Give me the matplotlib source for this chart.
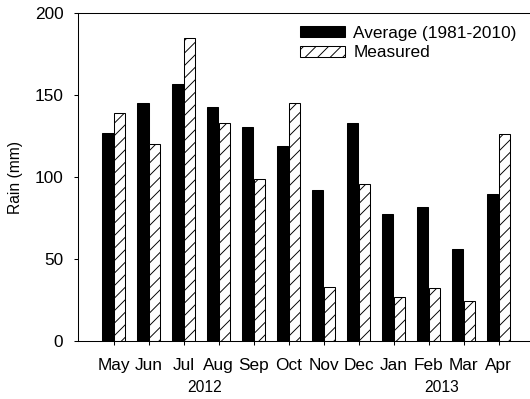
import numpy as np
import matplotlib.pyplot as plt

plt.rcParams['font.family'] = ['Liberation Sans', 'DejaVu Sans']
plt.rcParams['hatch.linewidth'] = 0.9

months = ["May", "Jun", "Jul", "Aug", "Sep", "Oct", "Nov", "Dec", "Jan", "Feb", "Mar", "Apr"]
average = [127, 145, 157, 142.5, 130.5, 119, 92, 133, 77.5, 82, 56, 90]
measured = [139, 120.5, 185, 133, 99, 145.5, 33, 96, 27, 32.5, 24.5, 126.5]

x = np.arange(len(months))
w = 0.32

fig = plt.figure(figsize=(530 / 75, 399 / 75), dpi=75)
ax = fig.add_axes([0.147, 0.145, 0.853, 0.822])

ax.bar(x - 0.17, average, w, color="black", edgecolor="black", linewidth=1.0,
       label="Average (1981-2010)")
ax.bar(x + 0.17, measured, w, color="white", edgecolor="black", linewidth=1.0,
       hatch="//", label="Measured")

ax.set_xlim(-1.03, 11.9)
ax.set_ylim(0, 200)
ax.set_yticks([0, 50, 100, 150, 200])
ax.set_xticks(x)
ax.set_xticklabels(months)
ax.tick_params(axis="both", direction="out", length=4, width=1.0, labelsize=16.5)
ax.tick_params(axis="x", pad=12)
ax.tick_params(axis="y", pad=10)
ax.spines["right"].set_visible(False)
for s in ["left", "top", "bottom"]:
    ax.spines[s].set_linewidth(1.0)

ax.set_ylabel("Rain (mm)", fontsize=15, labelpad=11)

# year labels under the month ticks
ax.text(2.6, -0.14, "2012", transform=ax.get_xaxis_transform(),
        ha="center", va="center", fontsize=15)
ax.text(9.37, -0.14, "2013", transform=ax.get_xaxis_transform(),
        ha="center", va="center", fontsize=15)

ax.legend(loc="upper left", bbox_to_anchor=(300 / 530, 1 - 26 / 399),
          bbox_transform=fig.transFigure, frameon=False, fontsize=16.5,
          handlelength=2.6, handleheight=0.6, handletextpad=0.5,
          labelspacing=0.25, borderpad=0, borderaxespad=0)

fig.savefig("out.png", dpi=75)
